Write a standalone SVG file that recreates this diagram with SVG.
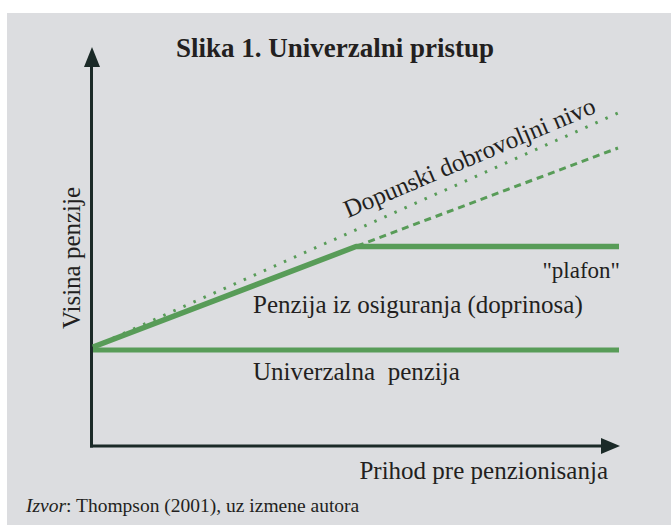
<svg xmlns="http://www.w3.org/2000/svg" width="671" height="525" viewBox="0 0 671 525">
<defs>
<style>
.lbl{font-family:"Liberation Serif","Times New Roman",serif;font-size:25px;fill:#231f20}
.g{stroke:#589c58;fill:none}
.ax{stroke:#1b2a28;stroke-width:3;fill:none}
.ah{fill:#1b2a28}
</style>
</defs>
<rect x="7" y="13" width="664" height="512" fill="#dcdde0"/>
<text x="335" y="57" text-anchor="middle" style="font-family:'Liberation Serif',serif;font-size:27px;font-weight:bold;fill:#231f20">Slika 1. Univerzalni pristup</text>
<g id="connectors">
<path class="ax" d="M91.5,447.5 V62"/>
<path class="ah" d="M92,47 L84,67 L100,67 z"/>
<path class="ax" d="M90,446 H604"/>
<path class="ah" d="M620,446 L601,438 L601,454 z"/>
<path class="g" stroke-width="3" stroke-dasharray="2.5,8.5" d="M93,347 L618,113"/>
<path class="g" stroke-width="3" stroke-dasharray="7,5" d="M357,246 L618,148"/>
<path class="g" stroke-width="5" d="M93,350 H619"/>
<path class="g" stroke-width="5.5" stroke-linejoin="round" d="M93,347 L356,246.5 H619"/>
</g>
<g id="labels">
<text class="lbl" transform="translate(348,218) rotate(-23)">Dopunski dobrovoljni nivo</text>
<text class="lbl" x="620" y="278" text-anchor="end" style="font-size:23px">"plafon"</text>
<text class="lbl" x="253" y="313">Penzija iz osiguranja (doprinosa)</text>
<text class="lbl" x="253" y="380" xml:space="preserve">Univerzalna  penzija</text>
<text class="lbl" transform="translate(80,258) rotate(-90)" text-anchor="middle">Visina penzije</text>
<text class="lbl" x="608" y="479" text-anchor="end">Prihod pre penzionisanja</text>
<text x="26" y="512" style="font-family:'Liberation Serif',serif;font-size:19.5px;fill:#231f20"><tspan font-style="italic">Izvor</tspan>: Thompson (2001), uz izmene autora</text>
</g>
</svg>
